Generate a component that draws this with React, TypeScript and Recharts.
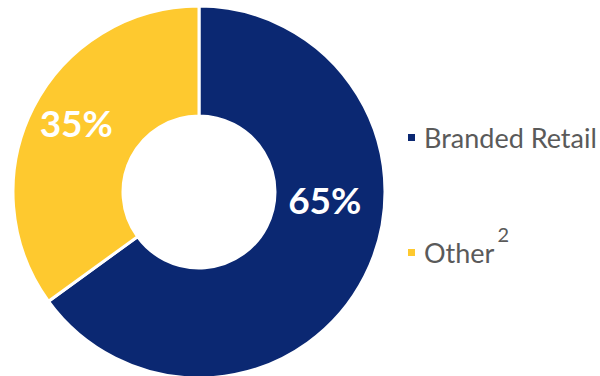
import React from 'react';
import { PieChart, Pie, Cell, Legend } from 'recharts';

const categories = ['Branded Retail', 'Other'];
const shares = [65, 35];
const footnotes = ['', '2'];

const COLORS = ['#0b2872', '#fec92f'];
const data = categories.map((name, i) => ({ name, value: shares[i], note: footnotes[i] }));

const RADIAN = Math.PI / 180;
// nudge the big label toward the horizontal like the original
const labelAngleShift = [23.5, -2.5];
const labelRadius = [126, 141];

const renderLabel = (props: any) => {
  const { cx, cy, midAngle, index, value } = props;
  const angle = (midAngle + labelAngleShift[index]) * RADIAN;
  const r = labelRadius[index];
  const x = cx + r * Math.cos(angle);
  const y = cy - r * Math.sin(angle);
  return (
    <text
      x={x}
      y={y}
      fill="#ffffff"
      textAnchor="middle"
      dominantBaseline="central"
      fontFamily="Lato, sans-serif"
      fontWeight={700}
      fontSize={37}
    >
      {`${value}%`}
    </text>
  );
};

const renderLegend = () => (
  <div style={{ fontFamily: 'Lato, sans-serif', color: '#5a5a5a', fontSize: 27 }}>
    {data.map((d, i) => (
      <div key={d.name} style={{ display: 'flex', alignItems: 'center', height: 36, marginBottom: i === 0 ? 79 : 0 }}>
        <span style={{ display: 'inline-block', width: 7, height: 7, background: COLORS[i], marginRight: 9 }} />
        <span style={{ position: 'relative' }}>
          {d.name}
          {d.note && (
            <span style={{ fontSize: 20, marginLeft: 3, position: 'relative', top: -21 }}>{d.note}</span>
          )}
        </span>
      </div>
    ))}
  </div>
);

export default function App() {
  return (
    <div style={{ position: 'absolute', left: 0, top: 0, width: 600, height: 376, background: '#fff' }}>
      <PieChart width={600} height={376} margin={{ top: 0, right: 0, bottom: 0, left: 0 }}>
        <Pie
          data={data}
          dataKey="value"
          nameKey="name"
          cx={199}
          cy={192}
          innerRadius={76}
          outerRadius={186}
          startAngle={90}
          endAngle={-270}
          stroke="#ffffff"
          strokeWidth={3}
          label={renderLabel}
          labelLine={false}
          isAnimationActive={false}
        >
          {data.map((d, i) => (
            <Cell key={d.name} fill={COLORS[i]} />
          ))}
        </Pie>
        <Legend
          content={renderLegend}
          wrapperStyle={{ position: 'absolute', left: 408, top: 119, width: 192 }}
        />
      </PieChart>
    </div>
  );
}
